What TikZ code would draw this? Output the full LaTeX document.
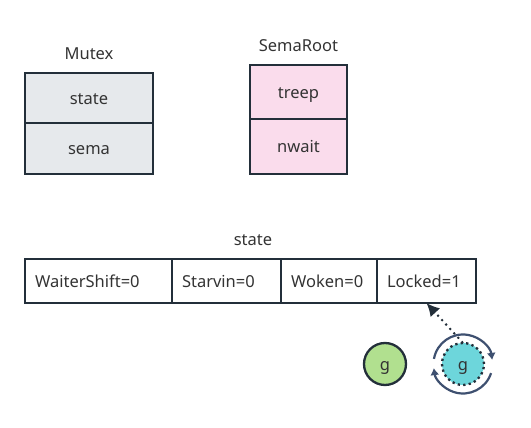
\documentclass[tikz,border=0pt]{standalone}
\usepackage{fontspec}
\setmainfont{Noto Sans}
\usepackage{xcolor}
\usetikzlibrary{arrows.meta,positioning}
\definecolor{softgray}{RGB}{230,233,236}
\definecolor{softpink}{RGB}{250,220,236}
\definecolor{softgreen}{RGB}{177,224,143}
\definecolor{softteal}{RGB}{109,214,219}
\definecolor{inkdark}{RGB}{35,47,58}
\definecolor{spinblue}{RGB}{62,80,112}
\definecolor{textgray}{RGB}{51,51,51}
\tikzset{
  title/.style={text=textgray, font=\fontsize{16.5}{20}\selectfont, inner sep=0pt, text height=14pt, text depth=1.5pt},
  cell/.style={draw=inkdark, line width=2.3pt, outer sep=0pt, text=textgray, font=\fontsize{16.5}{20}\selectfont, inner sep=0pt, text height=14pt, text depth=1.5pt},
  field/.style={cell, minimum height=44pt, text width=#1, inner xsep=10pt, align=left},
  proc/.style={cell, circle, minimum size=42pt},
  spin/.style={draw=spinblue, line width=2.2pt, -{Latex[length=7pt,width=9pt]}}
}
\begin{document}
\begin{tikzpicture}[x=1pt, y=1pt, >=Latex]
  \useasboundingbox (0,0) rectangle (531,428);
  % Mutex
  \node[cell, fill=softgray, minimum width=128pt, minimum height=50pt] (state) at (89,330) {state};
  \node[cell, fill=softgray, minimum width=128pt, minimum height=51pt, below=0pt of state] (sema) {sema};
  \node[title, above=12pt of state] (mutex) {Mutex};
  % SemaRoot
  \node[cell, fill=softpink, minimum width=97pt, minimum height=54pt] (treep) at (298.5,336) {treep};
  \node[cell, fill=softpink, minimum width=97pt, minimum height=55pt, below=0pt of treep] (nwait) {nwait};
  \node[title, above=12pt of treep] (semaroot) {SemaRoot};
  % state bits
  \node[field=127pt] (waiter) at (98.5,147) {WaiterShift=0};
  \node[field=89pt, right=0pt of waiter] (starvin) {Starvin=0};
  \node[field=76pt, right=0pt of starvin] (woken) {Woken=0};
  \node[field=79pt, right=0pt of woken] (locked) {Locked=1};
  \node[title] (bits) at (253,189) {state};
  % goroutines
  \node[proc, fill=softgreen] (gwait) at (385,64) {g};
  \node[proc, fill=softteal, dash pattern=on 2.3pt off 3.2pt] (gspin) at (463,64) {g};
  \draw[->, inkdark, line width=2pt, dash pattern=on 2pt off 4pt, >={Latex[length=13pt,width=13pt]}] (gspin.north) -- (locked.south);
  \draw[spin] ([shift={(170:29.5)}]gspin.center) arc[start angle=170, end angle=8, radius=29.5];
  \draw[spin] ([shift={(-18:29.5)}]gspin.center) arc[start angle=-18, end angle=-172, radius=29.5];
\end{tikzpicture}
\end{document}
